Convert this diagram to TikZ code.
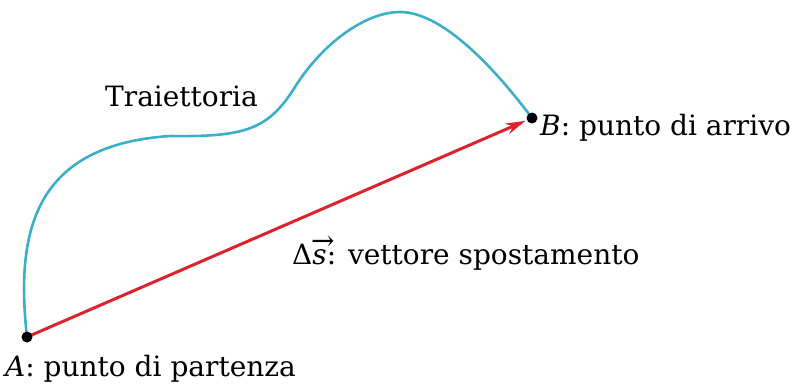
\documentclass[tikz,border=0pt]{standalone}
\usepackage{fontspec}
\setmainfont{DejaVu Serif}
\usetikzlibrary{arrows.meta}
\definecolor{trajblue}{RGB}{60,175,200}
\definecolor{vecred}{RGB}{220,35,45}
\begin{document}
\begin{tikzpicture}[x=1pt,y=-1pt,
  lbl/.style={anchor=base west,inner sep=0pt,font=\fontsize{28}{32}\selectfont},
  dotpt/.style={circle,fill=black,inner sep=0pt,minimum size=11pt},
  traj/.style={trajblue,line width=2.6pt},
  vec/.style={vecred,line width=3pt,-{Stealth[length=20pt,width=11pt]}}]
\useasboundingbox (0,0) rectangle (794,389);
\coordinate (A) at (27,337);
\coordinate (B) at (532,118);
\draw[traj] (A) .. controls (15,230) and (35,145) .. (170,136)
  .. controls (245,137) and (268,130) .. (295,87)
  .. controls (322,44) and (365,12) .. (400,12)
  .. controls (440,12) and (490,62) .. (B);
\draw[vec,shorten >=7pt] (A) -- (B);
\node[dotpt] (Ad) at (A) {};
\node[dotpt] (Bd) at (B) {};
\node[lbl] (tl) at (105,106) {Traiettoria};
\node[lbl] (al) at (5,376) {\textit{A}: punto di partenza};
\node[lbl] (bl) at (540,135) {\textit{B}: punto di arrivo};
\node[lbl] (sl) at (292,264) {Δ\makebox[0pt][l]{\raisebox{0.5em}{\kern-0.05em→}}\textit{s}: vettore spostamento};
\end{tikzpicture}
\end{document}
